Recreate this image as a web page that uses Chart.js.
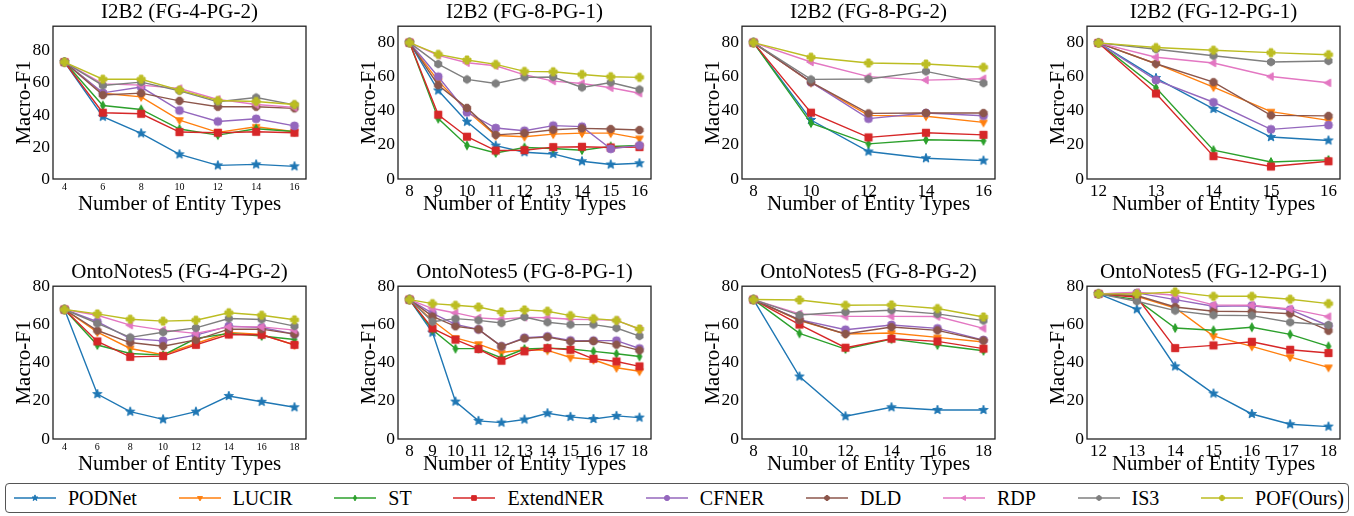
<!DOCTYPE html>
<html lang="en">
<head>
<meta charset="UTF-8">
<title>Macro-F1 vs Number of Entity Types</title>
<style>
  body {
    margin: 0;
    background: #fff;
    width: 1354px;
    height: 516px;
    position: relative;
    overflow: hidden;
    font-family: "Liberation Serif", "Times New Roman", Tinos, "DejaVu Serif", serif;
  }
  .panel { position: absolute; }
  #legend {
    position: absolute;
    left: 5px;
    top: 483px;
    width: 1344px;
    height: 30px;
    box-sizing: border-box;
    border: 1px solid #555;
    border-radius: 4px;
    display: flex;
    align-items: center;
    justify-content: space-between;
    padding: 0 4px 0 8px;
    font-size: 20px;
    color: #000;
  }
  #legend .item { display: flex; align-items: center; white-space: nowrap; }
  #legend canvas { margin-right: 12px; }
</style>
<script src="https://cdn.jsdelivr.net/npm/chart.js"></script>
</head>
<body>
<div id="legend"></div>

<script>
  const methods = ['PODNet', 'LUCIR', 'ST', 'ExtendNER', 'CFNER', 'DLD', 'RDP', 'IS3', 'POF(Ours)'];
  const colors  = ['#1f77b4', '#ff7f0e', '#2ca02c', '#d62728', '#9467bd', '#8c564b', '#e377c2', '#7f7f7f', '#bcbd22'];
  const markers = ['star', 'tri_down', 'thin_diamond', 'square', 'circle', 'octagon', 'tri_left', 'hexagon', 'plus'];
  const yTicks  = [0, 20, 40, 60, 80];

  // rows follow the order of `methods`
  const i2b2_4_2_x = [4, 6, 8, 10, 12, 14, 16];
  const i2b2_4_2 = [
    [73.0, 38.9, 28.5, 15.4, 8.5, 9.1, 7.9],
    [73.0, 53.5, 51.3, 36.8, 29.1, 32.6, 29.5],
    [73.0, 45.9, 43.4, 31.2, 27.4, 31.4, 29.7],
    [73.0, 41.4, 40.7, 29.3, 28.9, 29.5, 28.9],
    [73.0, 53.8, 57.4, 42.8, 35.9, 37.6, 33.2],
    [73.0, 52.4, 53.6, 48.8, 45.1, 45.1, 44.1],
    [73.0, 59.4, 58.6, 56.5, 49.7, 46.5, 44.7],
    [73.0, 58.4, 60.5, 55.1, 48.2, 50.9, 46.3],
    [73.0, 62.3, 62.3, 55.5, 49.0, 48.4, 46.5]
  ];

  const i2b2_8_1_x = [8, 9, 10, 11, 12, 13, 14, 15, 16];
  const i2b2_8_1 = [
    [80.0, 51.9, 33.6, 19.6, 15.7, 14.7, 10.4, 8.5, 9.2],
    [80.0, 57.4, 40.0, 25.5, 24.8, 26.3, 26.9, 26.9, 23.8],
    [80.0, 35.4, 19.7, 15.3, 18.5, 17.9, 16.9, 19.1, 19.7],
    [80.0, 37.7, 24.8, 16.7, 16.9, 18.7, 18.9, 18.5, 18.7],
    [80.0, 60.0, 39.1, 29.9, 28.3, 31.3, 30.7, 17.7, 19.7],
    [80.0, 55.0, 41.7, 25.9, 26.9, 28.9, 29.7, 29.3, 28.7],
    [80.0, 72.5, 68.2, 66.4, 61.1, 57.4, 56.0, 53.5, 50.3],
    [80.0, 67.4, 58.4, 56.0, 59.6, 59.8, 53.7, 56.6, 52.5],
    [80.0, 73.1, 69.8, 67.2, 63.1, 62.9, 61.3, 60.0, 59.6]
  ];

  const i2b2_8_2_x = [8, 10, 12, 14, 16];
  const i2b2_8_2 = [
    [80.0, 34.6, 16.1, 12.2, 10.8],
    [80.0, 56.6, 37.3, 36.8, 33.2],
    [80.0, 32.8, 20.6, 23.0, 22.4],
    [80.0, 38.9, 24.4, 27.1, 25.9],
    [80.0, 56.8, 35.4, 38.7, 37.1],
    [80.0, 56.8, 38.5, 38.7, 38.7],
    [80.0, 68.6, 60.0, 58.0, 58.8],
    [80.0, 58.4, 58.6, 63.1, 56.2],
    [80.0, 71.4, 68.0, 67.4, 65.5]
  ];

  const i2b2_12_1_x = [12, 13, 14, 15, 16];
  const i2b2_12_1 = [
    [79.8, 59.2, 41.1, 24.6, 22.6],
    [79.8, 67.6, 53.9, 39.5, 34.4],
    [79.8, 53.5, 16.9, 10.0, 11.2],
    [79.8, 50.1, 13.4, 7.3, 10.4],
    [79.8, 58.0, 45.0, 29.1, 31.6],
    [79.8, 67.6, 56.8, 37.3, 37.0],
    [79.8, 71.4, 68.0, 60.1, 56.4],
    [79.8, 76.1, 72.3, 68.6, 69.2],
    [79.8, 77.1, 75.5, 74.1, 72.9]
  ];

  const onto_4_2_x = [4, 6, 8, 10, 12, 14, 16, 18];
  const onto_4_2 = [
    [67.8, 23.5, 14.3, 10.3, 14.3, 22.5, 19.5, 16.6],
    [67.8, 56.0, 47.4, 44.1, 50.0, 55.8, 54.7, 49.2],
    [67.8, 49.2, 44.8, 43.9, 52.6, 55.3, 53.9, 52.1],
    [67.8, 51.1, 43.0, 43.4, 49.3, 54.7, 54.6, 49.3],
    [67.8, 61.4, 52.6, 51.4, 54.4, 59.1, 58.4, 54.9],
    [67.8, 56.8, 50.5, 48.6, 51.9, 57.5, 57.5, 54.9],
    [67.8, 64.8, 59.6, 57.0, 55.3, 58.7, 58.7, 57.0],
    [67.8, 60.5, 53.2, 55.9, 58.2, 63.1, 62.6, 59.1],
    [67.8, 65.5, 62.7, 61.7, 62.2, 66.1, 64.8, 62.4]
  ];

  const onto_8_1_x = [8, 9, 10, 11, 12, 13, 14, 15, 16, 17, 18];
  const onto_8_1 = [
    [73.0, 55.7, 19.6, 9.5, 8.6, 10.2, 13.5, 11.6, 10.5, 12.1, 11.2],
    [73.0, 62.0, 52.9, 49.7, 45.3, 46.7, 46.4, 42.7, 41.5, 37.3, 35.5],
    [73.0, 57.2, 47.3, 47.3, 42.4, 47.1, 47.6, 47.1, 45.9, 44.6, 43.2],
    [73.0, 57.9, 52.0, 47.1, 41.0, 45.9, 47.6, 46.7, 42.0, 40.6, 38.0],
    [73.0, 65.8, 60.0, 57.4, 48.5, 53.0, 53.7, 51.6, 51.5, 51.5, 47.4],
    [73.0, 64.2, 59.0, 57.4, 48.5, 52.7, 53.4, 51.1, 51.3, 49.4, 46.4],
    [73.0, 68.3, 66.0, 63.4, 62.7, 63.7, 63.5, 62.7, 62.5, 62.1, 57.6],
    [73.0, 61.4, 63.0, 62.1, 60.7, 63.9, 61.1, 59.9, 59.9, 58.1, 53.9],
    [73.0, 70.9, 70.0, 69.1, 66.5, 67.6, 66.9, 64.6, 63.0, 62.1, 57.6]
  ];

  const onto_8_2_x = [8, 10, 12, 14, 16, 18];
  const onto_8_2 = [
    [73.0, 32.7, 11.9, 16.6, 15.2, 15.2],
    [73.0, 62.0, 55.0, 55.5, 53.2, 50.8],
    [73.0, 55.3, 47.1, 52.3, 49.2, 46.2],
    [73.0, 59.9, 47.8, 52.5, 51.1, 47.3],
    [73.0, 62.5, 57.2, 59.7, 57.9, 51.8],
    [73.0, 62.3, 55.0, 58.6, 56.9, 51.6],
    [73.0, 65.5, 64.2, 64.2, 64.1, 57.9],
    [73.0, 64.9, 66.5, 67.4, 65.5, 62.0],
    [73.0, 72.8, 70.0, 70.2, 68.3, 63.9]
  ];

  const onto_12_1_x = [12, 13, 14, 15, 16, 17, 18];
  const onto_12_1 = [
    [76.0, 67.9, 38.0, 23.8, 13.1, 7.7, 6.5],
    [76.0, 74.7, 68.6, 53.9, 48.5, 42.9, 37.5],
    [76.0, 73.0, 58.1, 56.9, 58.5, 54.8, 48.5],
    [76.0, 74.2, 47.6, 49.0, 50.9, 46.7, 45.0],
    [76.0, 76.5, 73.0, 69.5, 69.8, 67.7, 59.3],
    [76.0, 75.1, 69.1, 66.9, 66.7, 65.6, 56.7],
    [76.0, 76.8, 75.3, 70.2, 70.0, 68.1, 64.1],
    [76.0, 72.1, 67.2, 64.8, 64.6, 61.1, 59.7],
    [76.0, 76.0, 77.0, 74.7, 74.7, 73.2, 70.9]
  ];

  // layout of the 8 panels
  const panels = [
    { title: 'I2B2 (FG-4-PG-2)',        x: i2b2_4_2_x,  y: i2b2_4_2,  left: 0,    top: 0,   xmin: 3.4,  xmax: 16.6, yMax: 95.4, smallX: true },
    { title: 'I2B2 (FG-8-PG-1)',        x: i2b2_8_1_x,  y: i2b2_8_1,  left: 345,  top: 0,   xmin: 7.6,  xmax: 16.4, yMax: 89.6 },
    { title: 'I2B2 (FG-8-PG-2)',        x: i2b2_8_2_x,  y: i2b2_8_2,  left: 689,  top: 0,   xmin: 7.6,  xmax: 16.4, yMax: 89.6 },
    { title: 'I2B2 (FG-12-PG-1)',       x: i2b2_12_1_x, y: i2b2_12_1, left: 1034, top: 0,   xmin: 11.8, xmax: 16.2, yMax: 89.6 },
    { title: 'OntoNotes5 (FG-4-PG-2)',  x: onto_4_2_x,  y: onto_4_2,  left: 0,    top: 260, xmin: 3.3,  xmax: 18.7, yMax: 80, smallX: true },
    { title: 'OntoNotes5 (FG-8-PG-1)',  x: onto_8_1_x,  y: onto_8_1,  left: 345,  top: 260, xmin: 7.5,  xmax: 18.5, yMax: 80 },
    { title: 'OntoNotes5 (FG-8-PG-2)',  x: onto_8_2_x,  y: onto_8_2,  left: 689,  top: 260, xmin: 7.5,  xmax: 18.5, yMax: 80 },
    { title: 'OntoNotes5 (FG-12-PG-1)', x: onto_12_1_x, y: onto_12_1, left: 1034, top: 260, xmin: 11.7, xmax: 18.3, yMax: 80 }
  ];

  const FONT = '"Liberation Serif", "Times New Roman", Tinos, "DejaVu Serif", serif';
  Chart.defaults.font.family = FONT;
  Chart.defaults.color = '#000';

  function drawMarker(ctx, shape, cx, cy, r, color) {
    ctx.fillStyle = color;
    ctx.strokeStyle = color;
    ctx.lineWidth = 1;
    ctx.beginPath();
    const poly = (n, rad, rot) => {
      for (let i = 0; i < n; i++) {
        const a = rot + i * 2 * Math.PI / n;
        const px = cx + rad * Math.cos(a), py = cy + rad * Math.sin(a);
        i ? ctx.lineTo(px, py) : ctx.moveTo(px, py);
      }
      ctx.closePath();
    };
    if (shape === 'star') {
      for (let i = 0; i < 10; i++) {
        const rad = i % 2 ? r * 0.5 : r * 1.2;
        const a = -Math.PI / 2 + i * Math.PI / 5;
        const px = cx + rad * Math.cos(a), py = cy + rad * Math.sin(a);
        i ? ctx.lineTo(px, py) : ctx.moveTo(px, py);
      }
      ctx.closePath();
    } else if (shape === 'tri_down') {
      poly(3, r * 1.1, Math.PI / 2);
    } else if (shape === 'tri_left') {
      poly(3, r * 1.1, Math.PI);
    } else if (shape === 'thin_diamond') {
      ctx.moveTo(cx, cy - r * 1.1);
      ctx.lineTo(cx + r * 0.6, cy);
      ctx.lineTo(cx, cy + r * 1.1);
      ctx.lineTo(cx - r * 0.6, cy);
      ctx.closePath();
    } else if (shape === 'square') {
      ctx.rect(cx - r * 0.9, cy - r * 0.9, r * 1.8, r * 1.8);
    } else if (shape === 'circle') {
      ctx.arc(cx, cy, r, 0, Math.PI * 2);
    } else if (shape === 'octagon') {
      poly(8, r, Math.PI / 8);
    } else if (shape === 'hexagon') {
      poly(6, r, Math.PI / 2);
    } else if (shape === 'plus') {
      const t = r * 0.45;
      ctx.moveTo(cx - t, cy - r); ctx.lineTo(cx + t, cy - r);
      ctx.lineTo(cx + t, cy - t); ctx.lineTo(cx + r, cy - t);
      ctx.lineTo(cx + r, cy + t); ctx.lineTo(cx + t, cy + t);
      ctx.lineTo(cx + t, cy + r); ctx.lineTo(cx - t, cy + r);
      ctx.lineTo(cx - t, cy + t); ctx.lineTo(cx - r, cy + t);
      ctx.lineTo(cx - r, cy - t); ctx.lineTo(cx - t, cy - t);
      ctx.closePath();
    }
    ctx.fill();
    ctx.stroke();
  }

  function markerImage(shape, color, r) {
    const c = document.createElement('canvas');
    c.width = c.height = Math.ceil(r * 3 + 2);
    drawMarker(c.getContext('2d'), shape, c.width / 2, c.height / 2, r, color);
    return c;
  }

  const pointImgs = markers.map((m, i) => markerImage(m, colors[i], 4));

  // full box around the plot area, like matplotlib spines
  const frame = {
    id: 'frame',
    afterDraw(chart) {
      const { ctx, chartArea: a } = chart;
      ctx.save();
      ctx.strokeStyle = '#222';
      ctx.lineWidth = 1.3;
      ctx.strokeRect(a.left, a.top, a.right - a.left, a.bottom - a.top);
      ctx.restore();
    }
  };

  panels.forEach(p => {
    const div = document.createElement('div');
    div.className = 'panel';
    div.style.left = p.left + 'px';
    div.style.top = p.top + 'px';
    const cv = document.createElement('canvas');
    cv.width = 320;
    cv.height = 216;
    div.appendChild(cv);
    document.body.appendChild(div);

    const datasets = methods.map((m, i) => ({
      label: m,
      data: p.x.map((xv, j) => ({ x: xv, y: p.y[i][j] })),
      borderColor: colors[i],
      backgroundColor: colors[i],
      borderWidth: 1.4,
      pointStyle: pointImgs[i],
      pointRadius: 4,
      tension: 0,
      order: methods.length - i
    }));

    new Chart(cv, {
      type: 'line',
      data: { datasets },
      plugins: [frame],
      options: {
        responsive: false,
        animation: false,
        layout: { padding: { top: 0, right: 14, bottom: 0, left: 0 } },
        plugins: {
          legend: { display: false },
          tooltip: { enabled: false },
          title: {
            display: true,
            text: p.title,
            fullSize: false,
            font: { size: 21, weight: 'normal', lineHeight: 1.2 },
            padding: { top: 0, bottom: 1 }
          }
        },
        scales: {
          x: {
            type: 'linear',
            min: p.xmin,
            max: p.xmax,
            afterBuildTicks: s => { s.ticks = p.x.map(v => ({ value: v })); },
            afterFit: s => { s.height = 37; },
            grid: { display: false, drawTicks: false },
            border: { display: false },
            ticks: { font: { size: p.smallX ? 10 : 17 }, padding: 2, maxRotation: 0, autoSkip: false },
            title: {
              display: true,
              text: 'Number of Entity Types',
              font: { size: 21, lineHeight: 1.0 },
              padding: { top: 0, bottom: 1 }
            }
          },
          y: {
            min: 0,
            max: p.yMax,
            afterBuildTicks: s => { s.ticks = yTicks.map(v => ({ value: v })); },
            afterFit: s => { s.width = 53; },
            grid: { display: false, drawTicks: false },
            border: { display: false },
            ticks: { font: { size: 17.5 }, padding: 3 },
            title: {
              display: true,
              text: 'Macro-F1',
              font: { size: 21, lineHeight: 1.2 },
              padding: { top: 12, bottom: 0 }
            }
          }
        }
      }
    });
  });

  // legend strip along the bottom
  const legend = document.getElementById('legend');
  methods.forEach((m, i) => {
    const item = document.createElement('div');
    item.className = 'item';
    const c = document.createElement('canvas');
    c.width = 42;
    c.height = 12;
    const ctx = c.getContext('2d');
    ctx.strokeStyle = colors[i];
    ctx.lineWidth = 1.4;
    ctx.beginPath();
    ctx.moveTo(0, 6);
    ctx.lineTo(42, 6);
    ctx.stroke();
    drawMarker(ctx, markers[i], 21, 6, 2.6, colors[i]);
    const span = document.createElement('span');
    span.textContent = m;
    item.appendChild(c);
    item.appendChild(span);
    legend.appendChild(item);
  });
</script>
</body>
</html>
